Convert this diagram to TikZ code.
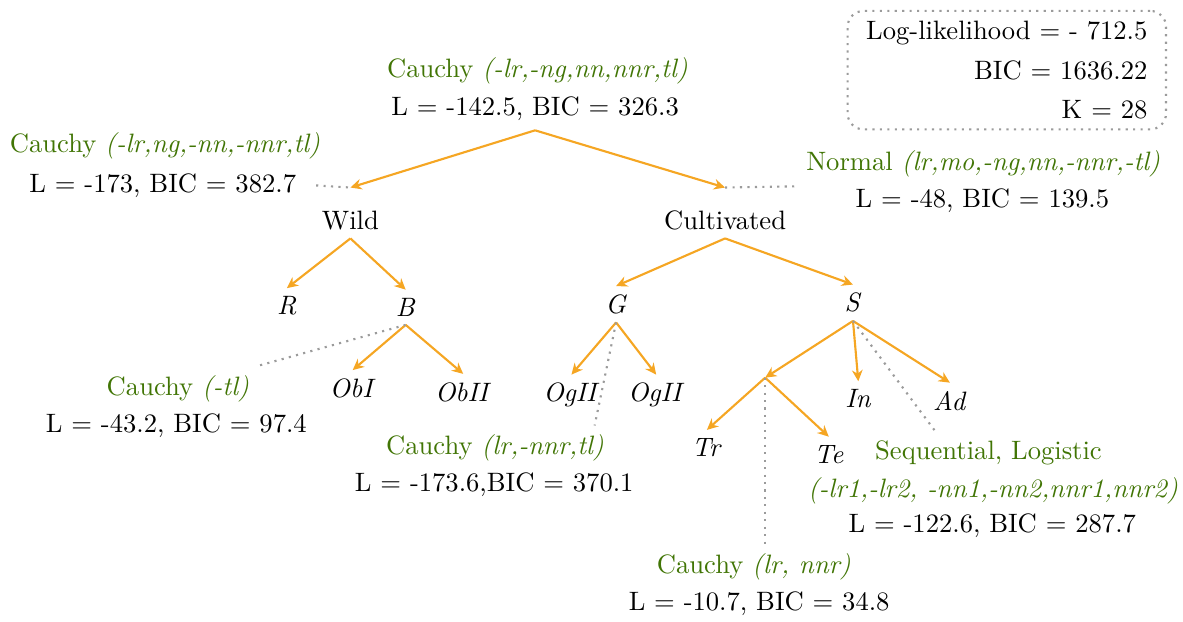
\documentclass[tikz,border=0pt]{standalone}
\usepackage{tikz}
\usetikzlibrary{arrows.meta,positioning}
\definecolor{fitgreen}{HTML}{417505}
\definecolor{branch}{HTML}{F5A623}
\definecolor{neutral}{HTML}{9B9B9B}
\tikzset{
  taxon/.style={anchor=base, inner sep=3pt},
  group/.style={taxon, text height=12.5pt},
  fittitle/.style={anchor=base, text=fitgreen},
  fitstat/.style={anchor=base},
  arr/.style={-{Stealth[length=4.2pt, width=4pt]}, thick, draw=branch},
  link/.style={dotted, thick, draw=neutral},
  summary/.style={draw=neutral, dotted, thick, rounded corners=6pt, align=right,
    inner xsep=7pt, inner ysep=3.7pt}
}
\begin{document}
\begin{tikzpicture}
    \useasboundingbox (0,0) rectangle (15.63,-8.21);
    % overall fit
    \node[summary, anchor=north east] (total) at (15.42,-0.13)
      {Log-likelihood = - 712.5\\[3pt] BIC = 1636.22\\[3pt] K = 28};
    % tree
    \node[fittitle] (rootfit) at (7.10,-1.02) {Cauchy \textit{(-lr,-ng,nn,nnr,tl)}};
    \node[fitstat] (root) at (7.07,-1.53) {L = -142.5, BIC = 326.3};
    \node[group] (wild) at (4.63,-3.03) {Wild};
    \node[group] (cult) at (9.58,-3.03) {Cultivated};
    \node[taxon] (R) at (3.79,-4.16) {\textit{R}};
    \node[taxon] (B) at (5.36,-4.18) {\textit{B}};
    \node[taxon] (G) at (8.14,-4.14) {\textit{G}};
    \node[taxon] (S) at (11.27,-4.12) {\textit{S}};
    \node[taxon] (obI) at (4.66,-5.25) {\textit{ObI}};
    \node[taxon] (obII) at (6.12,-5.30) {\textit{ObII}};
    \node[taxon] (ogIIa) at (7.55,-5.31) {\textit{OgII}};
    \node[taxon] (ogIIb) at (8.67,-5.31) {\textit{OgII}};
    \coordinate (split) at (10.11,-4.99);
    \node[taxon] (tr) at (9.34,-6.03) {\textit{Tr}};
    \node[taxon] (te) at (10.95,-6.12) {\textit{Te}};
    \node[taxon] (in) at (11.34,-5.39) {\textit{In}};
    \node[taxon] (ad) at (12.55,-5.42) {\textit{Ad}};
    \draw[arr] (root.south) -- (wild.north);
    \draw[arr] (root.south) -- (cult.north);
    \draw[arr] (wild.south) -- (R.north);
    \draw[arr] (wild.south) -- (B.north);
    \draw[arr] (B.south) -- (obI.north);
    \draw[arr] (B.south) -- (obII.north);
    \draw[arr] (cult.south) -- (G.north);
    \draw[arr] (cult.south) -- (S.north);
    \draw[arr] (G.south) -- (ogIIa.north);
    \draw[arr] (G.south) -- (ogIIb.north);
    \draw[arr] (S.south) -- (split);
    \draw[arr] (S.south) -- (in.north);
    \draw[arr] (S.south) -- (ad.north);
    \draw[arr] (split) -- (tr.north);
    \draw[arr] (split) -- (te.north);
    % fitted models
    \node[fittitle] (wildfit) at (2.18,-2.01) {Cauchy \textit{(-lr,ng,-nn,-nnr,tl)}};
    \node[fitstat] (wildbic) at (2.15,-2.54) {L = -173, BIC = 382.7};
    \node[fittitle] (cultfit) at (12.99,-2.25) {Normal \textit{(lr,mo,-ng,nn,-nnr,-tl)}};
    \node[fitstat] (cultbic) at (12.98,-2.74) {L = -48, BIC = 139.5};
    \node[fittitle] (bfit) at (2.35,-5.22) {Cauchy \textit{(-tl)}};
    \node[fitstat] (bbic) at (2.33,-5.71) {L = -43.2, BIC = 97.4};
    \node[fittitle] (gfit) at (6.54,-6.01) {Cauchy \textit{(lr,-nnr,tl)}};
    \node[fitstat] (gbic) at (6.53,-6.50) {L = -173.6,BIC = 370.1};
    \node[fittitle] (sfit) at (13.06,-6.07) {Sequential, Logistic};
    \node[fittitle] (sterms) at (13.12,-6.57) {\textit{(-lr1,-lr2, -nn1,-nn2,nnr1,nnr2)}};
    \node[fitstat] (sbic) at (13.11,-7.04) {L = -122.6, BIC = 287.7};
    \node[fittitle] (splitfit) at (9.96,-7.58) {Cauchy \textit{(lr, nnr)}};
    \node[fitstat] (splitbic) at (10.03,-8.06) {L = -10.7, BIC = 34.8};
    \draw[link] ([xshift=4pt]wildbic.east) -- (wild.north);
    \draw[link] (cult.north) -- (cultfit.south west);
    \draw[link] (B.south) -- (bfit.north east);
    \draw[link] (G.south) -- ([xshift=-7pt]gfit.north east);
    \draw[link] (S.south) -- ([xshift=-20pt]sfit.north);
    \draw[link] (split) -- (split |- splitfit.north);
  \end{tikzpicture}
\end{document}
